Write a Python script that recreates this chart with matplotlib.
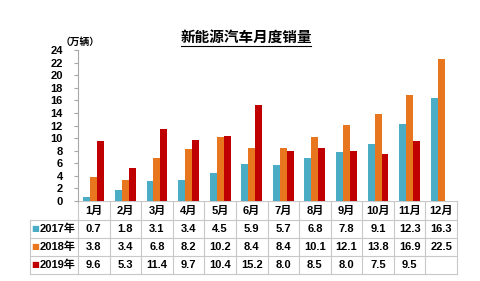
import matplotlib
matplotlib.use('Agg')
import matplotlib.pyplot as plt
import numpy as np

plt.rcParams['font.family'] = ['Liberation Sans', 'Noto Sans CJK SC']

# data
months = ['1月', '2月', '3月', '4月', '5月', '6月', '7月', '8月', '9月', '10月', '11月', '12月']
series = ['2017年', '2018年', '2019年']
sales_2017 = [0.7, 1.8, 3.1, 3.4, 4.5, 5.9, 5.7, 6.8, 7.8, 9.1, 12.3, 16.3]
sales_2018 = [3.8, 3.4, 6.8, 8.2, 10.2, 8.4, 8.4, 10.1, 12.1, 13.8, 16.9, 22.5]
sales_2019 = [9.6, 5.3, 11.4, 9.7, 10.4, 15.2, 8.0, 8.5, 8.0, 7.5, 9.5]
colors = ['#4BACC6', '#E8761E', '#C00000']

W, H = 480, 281
fig = plt.figure(figsize=(W / 100, H / 100), dpi=100)

# layout (pixels)
x0, x1 = 78, 457
y_top, y_base = 50, 201
row_edges = [201, 219.5, 237.5, 255.5, 273.5]
lab_left = 30

ax = fig.add_axes([x0 / W, 1 - y_base / H, (x1 - x0) / W, (y_base - y_top) / H])
bw = 0.22
for k, vals in enumerate([sales_2017, sales_2018, sales_2019]):
    xs = np.arange(len(vals)) + (k - 1) * bw
    ax.bar(xs, vals, width=bw, color=colors[k], linewidth=0)

ax.set_xlim(-0.5, len(months) - 0.5)
ax.set_ylim(0, 24)
ax.set_yticks(np.arange(0, 25, 2))
ax.set_xticks([])
for s in ['top', 'right', 'bottom']:
    ax.spines[s].set_visible(False)
ax.spines['left'].set_color('#A6A6A6')
ax.spines['left'].set_linewidth(0.8)
ax.tick_params(axis='y', length=3, color='#A6A6A6', pad=8, labelsize=8)
for t in ax.get_yticklabels():
    t.set_fontweight('bold')

# overlay in pixel coordinates for title and table
ov = fig.add_axes([0, 0, 1, 1], zorder=-1)
ov.set_xlim(0, W)
ov.set_ylim(H, 0)
ov.axis('off')

ov.text(246, 38, '新能源汽车月度销量', ha='center', va='center',
        fontsize=10.5, fontweight='bold')
ov.plot([181, 311], [45.5, 45.5], color='black', lw=0.8)
ov.text(80, 42, '（万辆）', ha='center', va='center', fontsize=7, fontweight='bold')

# table
cw = (x1 - x0) / len(months)
grid = '#C8C8C8'
# horizontal lines
ov.plot([x0, x1], [row_edges[0]] * 2, color=grid, lw=0.8)
for y in row_edges[1:]:
    ov.plot([lab_left, x1], [y, y], color=grid, lw=0.8)
# vertical lines
ov.plot([lab_left, lab_left], [row_edges[1], row_edges[-1]], color=grid, lw=0.8)
for i in range(len(months) + 1):
    x = x0 + i * cw
    ov.plot([x, x], [row_edges[0], row_edges[-1]], color=grid, lw=0.8)

for i, m in enumerate(months):
    ov.text(x0 + (i + 0.5) * cw, (row_edges[0] + row_edges[1]) / 2 + 0.5, m,
            ha='center', va='center', fontsize=8, fontweight='bold')

for r, (name, vals) in enumerate(zip(series, [sales_2017, sales_2018, sales_2019])):
    yc = (row_edges[r + 1] + row_edges[r + 2]) / 2 + 0.5
    ov.text(35, yc, '■', ha='center', va='center', fontsize=6, color=colors[r],
            family=['DejaVu Sans'])
    ov.text(57.5, yc, name, ha='center', va='center', fontsize=8, fontweight='bold')
    for i, v in enumerate(vals):
        ov.text(x0 + (i + 0.5) * cw, yc, f'{v:.1f}', ha='center', va='center',
                fontsize=8, fontweight='bold')

fig.savefig('out.png', dpi=100)
